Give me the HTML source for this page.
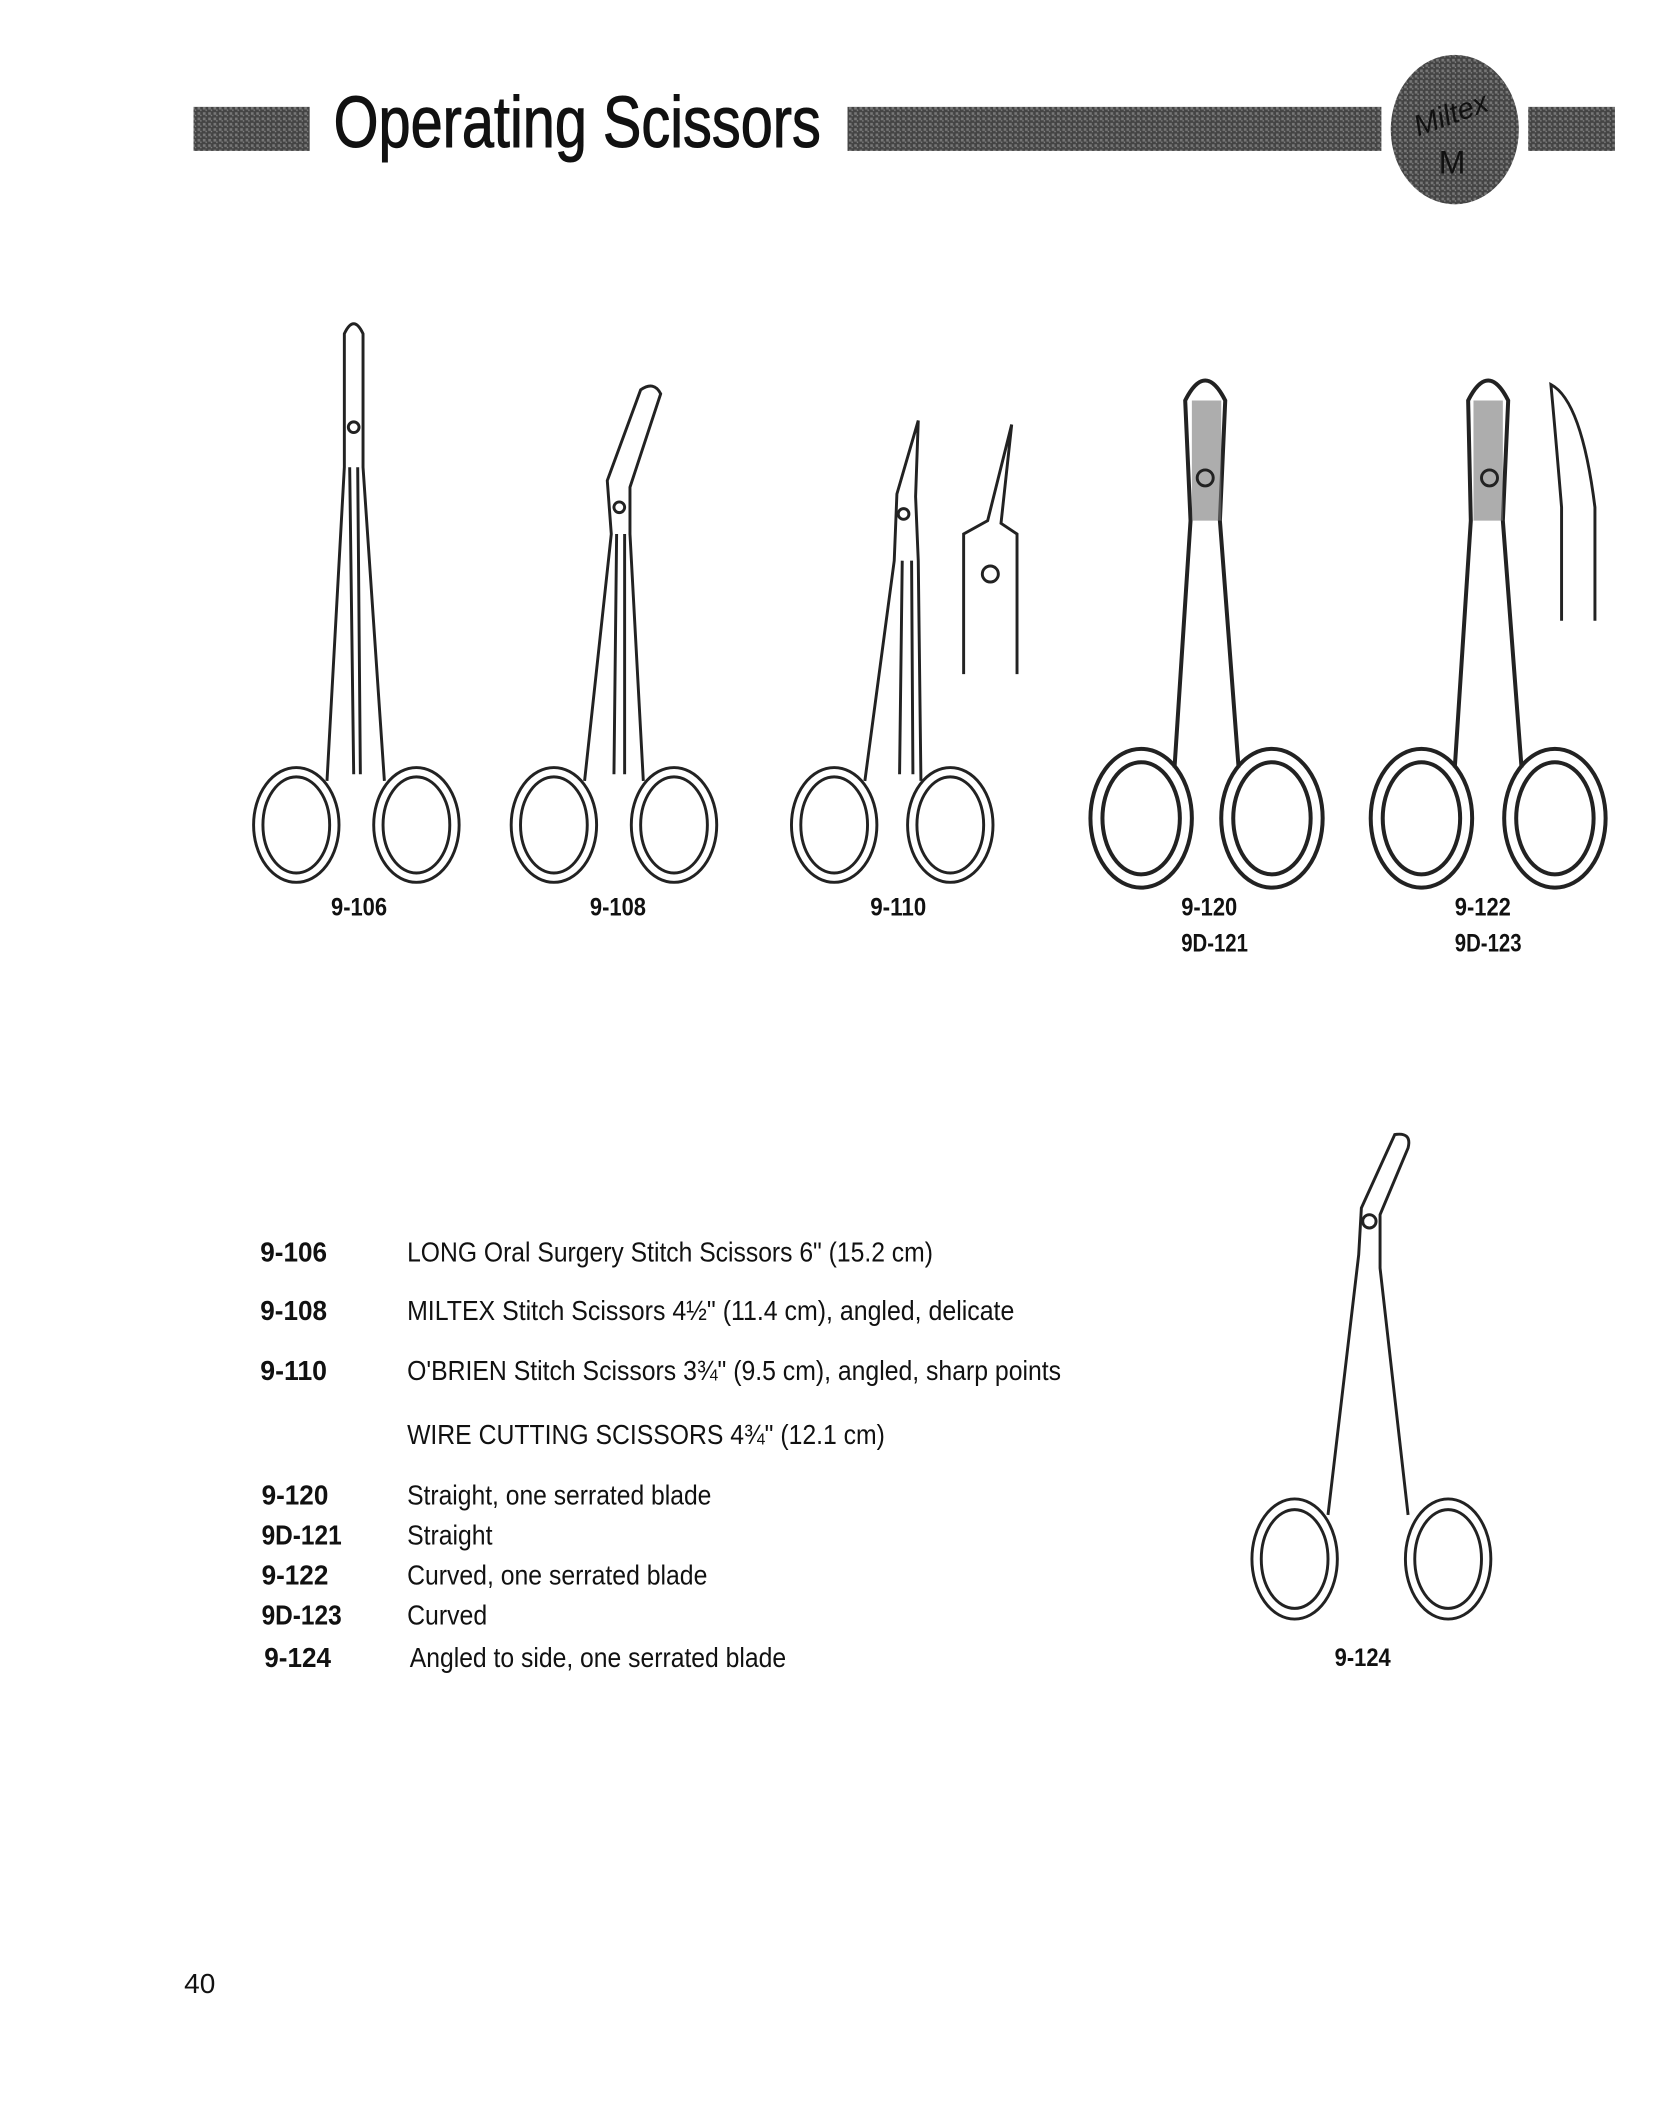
<!DOCTYPE html>
<html><head><meta charset="utf-8"><style>
html,body{margin:0;padding:0;background:#fff;}
svg{display:block}
text{font-family:"Liberation Sans",sans-serif;fill:#111}
</style></head><body>
<svg width="1655" height="2105" viewBox="0 0 1240 1577" xmlns="http://www.w3.org/2000/svg">
<defs>
<pattern id="hatch" width="4" height="4" patternUnits="userSpaceOnUse">
<rect width="4" height="4" fill="#444"/><rect width="2" height="2" fill="#777"/><rect x="2" y="2" width="1" height="1" fill="#888"/>
</pattern>
</defs>
<!-- header -->
<rect x="145" y="80" width="87" height="33" fill="url(#hatch)"/>
<text x="250" y="110" font-size="54" textLength="365" lengthAdjust="spacingAndGlyphs" fill="#333" stroke="#111" stroke-width="0.8">Operating Scissors</text>
<rect x="635" y="80" width="400" height="33" fill="url(#hatch)"/>
<ellipse cx="1090" cy="97" rx="48" ry="56" fill="url(#hatch)"/>
<text x="1060" y="92" font-size="22" font-style="italic" font-family="Liberation Serif" fill="#eee" transform="rotate(-20 1090 90)">Miltex</text>
<text x="1078" y="130" font-size="24" font-family="Liberation Serif" fill="#eee">M</text>
<rect x="1145" y="80" width="65" height="33" fill="url(#hatch)"/>

<g fill="none" stroke="#222" stroke-width="2.2">
<!-- 9-106 -->
<ellipse cx="222" cy="618" rx="32" ry="43"/><ellipse cx="222" cy="618" rx="25" ry="36"/>
<ellipse cx="312" cy="618" rx="32" ry="43"/><ellipse cx="312" cy="618" rx="25" ry="36"/>
<path d="M245 585 L258 350 L258 250 Q265 235 272 250 L272 350 L288 585"/>
<path d="M262 350 L265 580 M268 350 L270 580"/>
<circle cx="265" cy="320" r="4"/>
<!-- 9-108 -->
<ellipse cx="415" cy="618" rx="32" ry="43"/><ellipse cx="415" cy="618" rx="25" ry="36"/>
<ellipse cx="505" cy="618" rx="32" ry="43"/><ellipse cx="505" cy="618" rx="25" ry="36"/>
<path d="M438 585 L458 400 L455 360 L480 292 Q490 285 495 295 L472 365 L472 400 L482 585"/>
<path d="M462 400 L460 580 M468 400 L468 580"/>
<circle cx="464" cy="380" r="4"/>
<!-- 9-110 -->
<ellipse cx="625" cy="618" rx="32" ry="43"/><ellipse cx="625" cy="618" rx="25" ry="36"/>
<ellipse cx="712" cy="618" rx="32" ry="43"/><ellipse cx="712" cy="618" rx="25" ry="36"/>
<path d="M648 585 L670 420 L672 370 L688 315 L686 372 L688 420 L690 585"/>
<path d="M676 420 L674 580 M683 420 L684 580"/>
<circle cx="677" cy="385" r="4"/>
<path d="M722 505 L722 400 L740 390 L758 318 L750 392 L762 400 L762 505"/>
<circle cx="742" cy="430" r="6"/>
<!-- 9-120 -->
<g stroke-width="3">
<ellipse cx="855" cy="613" rx="38" ry="52"/><ellipse cx="855" cy="613" rx="29" ry="42"/>
<ellipse cx="953" cy="613" rx="38" ry="52"/><ellipse cx="953" cy="613" rx="29" ry="42"/>
<path d="M880 575 L892 390 L888 300 Q903 270 918 300 L914 390 L928 575"/>
</g>
<rect x="893" y="300" width="22" height="90" fill="#777" stroke="none" opacity="0.6"/>
<circle cx="903" cy="358" r="6"/>
<!-- 9-122 -->
<g stroke-width="3">
<ellipse cx="1065" cy="613" rx="38" ry="52"/><ellipse cx="1065" cy="613" rx="29" ry="42"/>
<ellipse cx="1165" cy="613" rx="38" ry="52"/><ellipse cx="1165" cy="613" rx="29" ry="42"/>
<path d="M1090 575 L1102 390 L1100 300 Q1115 270 1130 300 L1126 390 L1140 575"/>
</g>
<rect x="1104" y="300" width="22" height="90" fill="#777" stroke="none" opacity="0.6"/>
<circle cx="1116" cy="358" r="6"/>
<path d="M1170 465 L1170 380 Q1165 320 1162 288 Q1185 300 1195 380 L1195 465"/>
<!-- 9-124 -->
<ellipse cx="970" cy="1168" rx="32" ry="45"/><ellipse cx="970" cy="1168" rx="25" ry="37"/>
<ellipse cx="1085" cy="1168" rx="32" ry="45"/><ellipse cx="1085" cy="1168" rx="25" ry="37"/>
<path d="M995 1135 L1018 940 L1020 905 L1045 850 Q1058 848 1055 860 L1034 910 L1034 950 L1055 1135"/>
<circle cx="1026" cy="915" r="5"/>
</g>

<g font-weight="bold" font-size="19">
<text x="248" y="686" textLength="42" lengthAdjust="spacingAndGlyphs">9-106</text>
<text x="442" y="686" textLength="42" lengthAdjust="spacingAndGlyphs">9-108</text>
<text x="652" y="686" textLength="42" lengthAdjust="spacingAndGlyphs">9-110</text>
<text x="885" y="686" textLength="42" lengthAdjust="spacingAndGlyphs">9-120</text>
<text x="885" y="713" textLength="50" lengthAdjust="spacingAndGlyphs">9D-121</text>
<text x="1090" y="686" textLength="42" lengthAdjust="spacingAndGlyphs">9-122</text>
<text x="1090" y="713" textLength="50" lengthAdjust="spacingAndGlyphs">9D-123</text>
<text x="1000" y="1248" textLength="42" lengthAdjust="spacingAndGlyphs">9-124</text>
</g>

<g font-size="21">
<g font-weight="bold">
<text x="195" y="945" textLength="50" lengthAdjust="spacingAndGlyphs">9-106</text>
<text x="195" y="989" textLength="50" lengthAdjust="spacingAndGlyphs">9-108</text>
<text x="195" y="1034" textLength="50" lengthAdjust="spacingAndGlyphs">9-110</text>
<text x="196" y="1127" textLength="50" lengthAdjust="spacingAndGlyphs">9-120</text>
<text x="196" y="1157" textLength="60" lengthAdjust="spacingAndGlyphs">9D-121</text>
<text x="196" y="1187" textLength="50" lengthAdjust="spacingAndGlyphs">9-122</text>
<text x="196" y="1217" textLength="60" lengthAdjust="spacingAndGlyphs">9D-123</text>
<text x="198" y="1249" textLength="50" lengthAdjust="spacingAndGlyphs">9-124</text>
</g>
<text x="305" y="945" textLength="394" lengthAdjust="spacingAndGlyphs">LONG Oral Surgery Stitch Scissors 6" (15.2 cm)</text>
<text x="305" y="989" textLength="455" lengthAdjust="spacingAndGlyphs">MILTEX Stitch Scissors 4½" (11.4 cm), angled, delicate</text>
<text x="305" y="1034" textLength="490" lengthAdjust="spacingAndGlyphs">O'BRIEN Stitch Scissors 3¾" (9.5 cm), angled, sharp points</text>
<text x="305" y="1082" textLength="358" lengthAdjust="spacingAndGlyphs">WIRE CUTTING SCISSORS 4¾" (12.1 cm)</text>
<text x="305" y="1127" textLength="228" lengthAdjust="spacingAndGlyphs">Straight, one serrated blade</text>
<text x="305" y="1157" textLength="64" lengthAdjust="spacingAndGlyphs">Straight</text>
<text x="305" y="1187" textLength="225" lengthAdjust="spacingAndGlyphs">Curved, one serrated blade</text>
<text x="305" y="1217" textLength="60" lengthAdjust="spacingAndGlyphs">Curved</text>
<text x="307" y="1249" textLength="282" lengthAdjust="spacingAndGlyphs">Angled to side, one serrated blade</text>
</g>
<text x="138" y="1493" font-size="21">40</text>
</svg>
</body></html>
